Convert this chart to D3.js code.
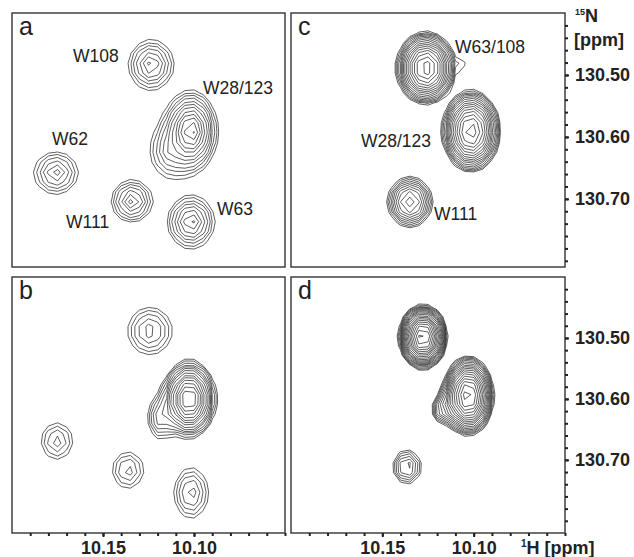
<!DOCTYPE html>
<html lang="en">
<head>
<meta charset="UTF-8">
<title>Trp indole NH region</title>
<script src="https://cdnjs.cloudflare.com/ajax/libs/d3/7.8.5/d3.min.js"></script>
<style>
  body { margin: 0; background: #fff; }
  svg { display: block; font-family: "Liberation Sans", Arial, sans-serif; }
  .frame { fill: none; stroke: #333; stroke-width: 1.4; }
  .cnt { fill: none; stroke: #2a2a2a; stroke-width: 0.75; }
  .peak-label { font-size: 17.5px; fill: #222; }
  .panel-letter { font-size: 25px; fill: #222; }
  .axis text { font-size: 18px; font-weight: bold; fill: #222; font-family: "Liberation Sans", Arial, sans-serif; }
  .axis line { stroke: #222; stroke-width: 2; }
  .axis path { display: none; }
  .unit { font-size: 18px; font-weight: bold; fill: #222; }
</style>
</head>
<body>
<svg id="chart" width="634" height="557"></svg>
<script>
// peaks: [1H ppm, 15N ppm, half-width 1H, half-width 15N (lowest contour), number of contours, group]
// rows with the same group add up (peak + shoulder); different groups just overlap
const peaksA = [
    [10.1236, 130.4839, 0.0124, 0.0404, 7, 0],   // W108
    [10.1016, 130.5905, 0.0143, 0.0646, 12, 1],  // W28/123
    [10.1143, 130.6244, 0.0088, 0.0355, 4, 1],   // W28/123 shoulder
    [10.1758, 130.6583, 0.0121, 0.0339, 6, 2],   // W62
    [10.1341, 130.7035, 0.0113, 0.0339, 7, 3],   // W111
    [10.1016, 130.7374, 0.0129, 0.0428, 8, 4]    // W63
];
const peaksB = [
    [10.1242, 130.4886, 0.0121, 0.0386, 5, 0],
    [10.1027, 130.6002, 0.0148, 0.0640, 15, 1],
    [10.1187, 130.6313, 0.0066, 0.0328, 5, 1],
    [10.1753, 130.6691, 0.0085, 0.0295, 4, 2],
    [10.1363, 130.7167, 0.0085, 0.0295, 4, 3],
    [10.1016, 130.7544, 0.0093, 0.0410, 5, 4]
];
const peaksC = [
    [10.1261, 130.4888, 0.0164, 0.0589, 16, 0],  // W63/108
    [10.1086, 130.4839, 0.0040, 0.0160, 2, 1],   // small lobe
    [10.1015, 130.5905, 0.0159, 0.0662, 16, 2],  // W28/123
    [10.1349, 130.7051, 0.0123, 0.0404, 10, 3]   // W111
];
const peaksD = [
    [10.1278, 130.4984, 0.0134, 0.0533, 20, 0],
    [10.1031, 130.5952, 0.0142, 0.0656, 18, 1],
    [10.1184, 130.6182, 0.0038, 0.0164, 4, 1],
    [10.1365, 130.7117, 0.0079, 0.0279, 6, 2]
];

// peak labels: [text, 1H ppm, 15N ppm] (left end of the text baseline)
const labelsA = [
    ["W108", 10.1665, 130.4791],
    ["W28/123", 10.0951, 130.5308],
    ["W62", 10.1780, 130.6131],
    ["W111", 10.1703, 130.7471],
    ["W63", 10.0874, 130.7261]
];
const labelsC = [
    ["W63/108", 10.1102, 130.4646],
    ["W28/123", 10.1617, 130.6163],
    ["W111", 10.1217, 130.7341]
];

const xDomain = [10.20, 10.05];
const yDomainTop = [130.40, 130.81];
const yDomainBottom = [130.40, 130.82];
const xMajorTicks = [10.15, 10.10];
const xMinorTicks = [10.19, 10.18, 10.17, 10.16, 10.15, 10.14, 10.13, 10.12, 10.11, 10.10, 10.09, 10.08, 10.07, 10.06, 10.05];
const yMajorTicks = [130.50, 130.60, 130.70];
const yMinorTicks = [130.42, 130.44, 130.46, 130.48, 130.50, 130.52, 130.54, 130.56, 130.58, 130.60,
    130.62, 130.64, 130.66, 130.68, 130.70, 130.72, 130.74, 130.76, 130.78, 130.80];

const panelNames = ["a", "b", "c", "d"];
const levelFactors = [1.25, 1.25, 1.15, 1.12];
const lineShapes = [1.3, 1.6, 2.0, 2.0];

const svg = d3.select('#chart');

const panels = [
    {name: 'a', peaks: peaksA, labels: labelsA, x0: 12, x1: 285, y0: 13, y1: 267, yDom: yDomainTop},
    {name: 'b', peaks: peaksB, labels: [], x0: 12, x1: 285, y0: 277, y1: 533, yDom: yDomainBottom, bottomAxis: true},
    {name: 'c', peaks: peaksC, labels: labelsC, x0: 291, x1: 565, y0: 13, y1: 267, yDom: yDomainTop, rightAxis: true},
    {name: 'd', peaks: peaksD, labels: [], x0: 291, x1: 565, y0: 277, y1: 533, yDom: yDomainBottom, bottomAxis: true, rightAxis: true}
];

// spectrum grid (digital resolution)
const dH = 0.005, dN = 0.016;
const H0 = 10.205, N0 = 130.385;
const nx = 33, ny = 29;

panels.forEach(p => {
    const idx = panelNames.indexOf(p.name);
    const f = levelFactors[idx];
    const s = lineShapes[idx];

    const x = d3.scaleLinear().domain(xDomain).range([p.x0, p.x1]);
    const y = d3.scaleLinear().domain(p.yDom).range([p.y0, p.y1]);

    const g = svg.append('g').attr('class', 'panel-' + p.name);

    const comps = p.peaks.map(([h, n, wh, wn, k, grp]) => {
        const A = Math.pow(f, k - 0.3);
        const q = Math.pow(Math.log(A), 1 / s);
        return {h, n, A, sh: wh / q, sn: wn / q, grp};
    });
    const groups = d3.groups(comps, c => c.grp).map(d => d[1]);

    const values = new Float64Array(nx * ny);
    for (let j = 0; j < ny; j++) {
        for (let i = 0; i < nx; i++) {
            const H = H0 - i * dH, N = N0 + j * dN;
            values[j * nx + i] = d3.max(groups, grp => d3.sum(grp, c => {
                const rho = Math.sqrt(((H - c.h) / c.sh) ** 2 + ((N - c.n) / c.sn) ** 2);
                return c.A * Math.exp(-Math.pow(rho, s));
            }));
        }
    }

    const kMax = d3.max(p.peaks, d => d[4]);
    const thresholds = d3.range(kMax).map(i => Math.pow(f, i));
    const contours = d3.contours().size([nx, ny]).thresholds(thresholds)(values);

    const proj = d3.geoTransform({
        point(px, py) {
            this.stream.point(x(H0 - (px - 0.5) * dH), y(N0 + (py - 0.5) * dN));
        }
    });
    const path = d3.geoPath(proj);

    g.selectAll('path.cnt')
        .data(contours)
        .join('path')
        .attr('class', 'cnt')
        .attr('d', path);

    g.append('rect')
        .attr('class', 'frame')
        .attr('x', p.x0).attr('y', p.y0)
        .attr('width', p.x1 - p.x0).attr('height', p.y1 - p.y0);

    g.append('text')
        .attr('class', 'panel-letter')
        .attr('x', p.x0 + 7).attr('y', p.y0 + 22)
        .text(p.name);

    g.selectAll('text.peak-label')
        .data(p.labels)
        .join('text')
        .attr('class', 'peak-label')
        .attr('x', d => x(d[1]))
        .attr('y', d => y(d[2]))
        .text(d => d[0]);

    if (p.bottomAxis) {
        g.append('g').attr('class', 'axis')
            .attr('transform', `translate(0, ${p.y1})`)
            .call(d3.axisBottom(x).tickValues(xMinorTicks).tickSize(3).tickFormat(''));
        g.append('g').attr('class', 'axis')
            .attr('transform', `translate(0, ${p.y1})`)
            .call(d3.axisBottom(x).tickValues(xMajorTicks).tickSize(4).tickPadding(4).tickFormat(d3.format('.2f')));
    }
    if (p.rightAxis) {
        g.append('g').attr('class', 'axis')
            .attr('transform', `translate(${p.x1}, 0)`)
            .call(d3.axisRight(y).tickValues(yMinorTicks).tickSize(3).tickFormat(''));
        g.append('g').attr('class', 'axis')
            .attr('transform', `translate(${p.x1}, 0)`)
            .call(d3.axisRight(y).tickValues(yMajorTicks).tickSize(4).tickPadding(6).tickFormat(d3.format('.2f')));
    }
});

// axis units
const nUnit = svg.append('text').attr('class', 'unit').attr('x', 575).attr('y', 22);
nUnit.append('tspan').attr('font-size', 9).attr('dy', -7).text('15');
nUnit.append('tspan').attr('dy', 7).text('N');
svg.append('text').attr('class', 'unit').attr('x', 574).attr('y', 46).text('[ppm]');

const hUnit = svg.append('text').attr('class', 'unit').attr('x', 521).attr('y', 554);
hUnit.append('tspan').attr('font-size', 10).attr('dy', -7).text('1');
hUnit.append('tspan').attr('dy', 7).text('H [ppm]');
</script>
</body>
</html>
